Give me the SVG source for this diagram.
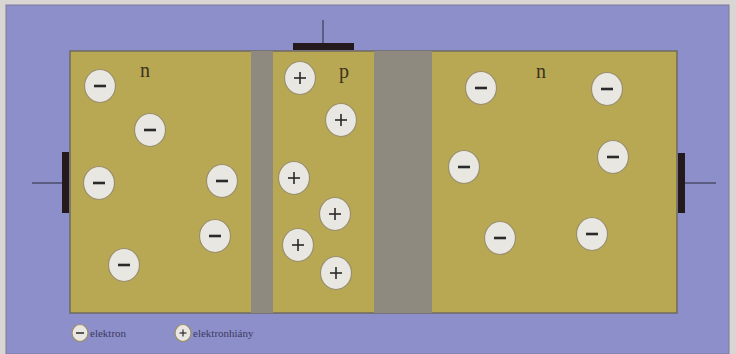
<svg xmlns="http://www.w3.org/2000/svg" width="736" height="354" viewBox="0 0 736 354">
<style>
.c{fill:#e9e7e1;stroke:#9a8f6a;stroke-width:1.2}
.s{stroke:#2a2a2a;stroke-width:2.6;stroke-linecap:butt}
.lbl{font-family:"Liberation Serif",serif;font-size:20px;fill:#3a3320}
.leg{font-family:"Liberation Serif",serif;font-size:11px;fill:#3c3a5e}
.wire{stroke:#2a2a3a;stroke-width:1}
.bar{fill:#241a1e}
</style>
<defs>
<g id="minus"><ellipse class="c" cx="0" cy="0" rx="15.5" ry="16.5"/><line class="s" x1="-6" y1="0" x2="6" y2="0"/></g>
<g id="plus"><ellipse class="c" cx="0" cy="0" rx="15.5" ry="16.5"/><line class="s" x1="-6" y1="0" x2="6" y2="0" style="stroke-width:1.6"/><line class="s" x1="0" y1="-6" x2="0" y2="6" style="stroke-width:1.6"/></g>
</defs>
<rect width="736" height="354" fill="#d9d5d2"/>
<rect x="6" y="5" width="723" height="349" fill="#8d8fca" stroke="#7a7a9a" stroke-width="1"/>
<g id="body">
<rect x="70" y="51" width="607" height="262" fill="#b9a853" stroke="#6e6a60" stroke-width="1.5"/>
<rect x="251" y="51" width="22" height="262" fill="#8f8a80"/>
<rect x="374" y="51" width="58" height="262" fill="#8f8a80"/>
</g>
<g id="contacts">
<line class="wire" x1="323" y1="20" x2="323" y2="44"/>
<rect class="bar" x="293" y="43" width="61" height="7"/>
<line class="wire" x1="32" y1="183" x2="62" y2="183"/>
<rect class="bar" x="62" y="152" width="7" height="61"/>
<line class="wire" x1="685" y1="183" x2="716" y2="183"/>
<rect class="bar" x="678" y="153" width="7" height="60"/>
</g>
<g id="labels">
<text class="lbl" x="145" y="77" text-anchor="middle">n</text>
<text class="lbl" x="344" y="78" text-anchor="middle">p</text>
<text class="lbl" x="541" y="78" text-anchor="middle">n</text>
</g>
<g id="emitter">
<use href="#minus" x="100" y="86"/>
<use href="#minus" x="150" y="130"/>
<use href="#minus" x="99" y="183"/>
<use href="#minus" x="222" y="181"/>
<use href="#minus" x="215" y="236"/>
<use href="#minus" x="124" y="265"/>
</g>
<g id="base">
<use href="#plus" x="300" y="78"/>
<use href="#plus" x="341" y="120"/>
<use href="#plus" x="294" y="178"/>
<use href="#plus" x="335" y="214"/>
<use href="#plus" x="298" y="245"/>
<use href="#plus" x="336" y="273"/>
</g>
<g id="collector">
<use href="#minus" x="481" y="88"/>
<use href="#minus" x="607" y="89"/>
<use href="#minus" x="464" y="167"/>
<use href="#minus" x="613" y="157"/>
<use href="#minus" x="500" y="238"/>
<use href="#minus" x="592" y="234"/>
</g>
<g id="legend">
<ellipse class="c" cx="80" cy="333" rx="8" ry="8.5"/>
<line x1="76" y1="333" x2="84" y2="333" stroke="#2a2a2a" stroke-width="1.5"/>
<text class="leg" x="90" y="337">elektron</text>
<ellipse class="c" cx="183" cy="333" rx="8" ry="8.5"/>
<line x1="179.5" y1="333" x2="186.5" y2="333" stroke="#2a2a2a" stroke-width="1.2"/>
<line x1="183" y1="329.5" x2="183" y2="336.5" stroke="#2a2a2a" stroke-width="1.2"/>
<text class="leg" x="193" y="337">elektronhiány</text>
</g>
</svg>
